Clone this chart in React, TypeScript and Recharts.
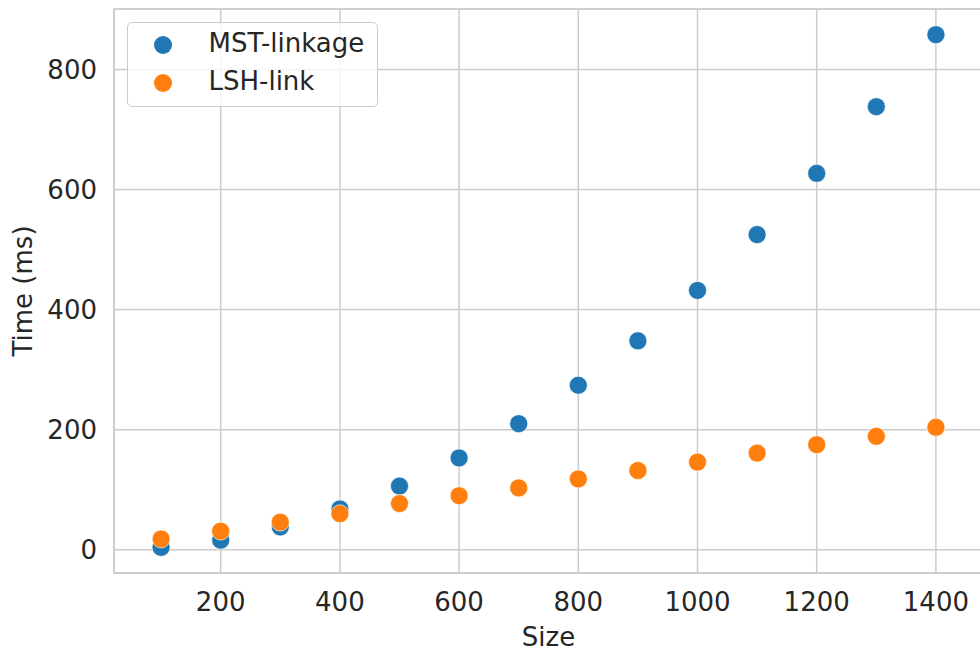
import React from "react";
import {
  ScatterChart,
  Scatter,
  XAxis,
  YAxis,
  CartesianGrid,
  Legend,
  ReferenceArea,
} from "recharts";

const sizes = [100, 200, 300, 400, 500, 600, 700, 800, 900, 1000, 1100, 1200, 1300, 1400];
const mstLinkage = [4, 16, 38, 68, 106, 153, 210, 274, 348, 432, 525, 627, 738, 858];
const lshLink = [18, 31, 46, 60, 77, 90, 103, 118, 132, 146, 161, 175, 189, 204];
const xTicks = [200, 400, 600, 800, 1000, 1200, 1400];
const yTicks = [0, 200, 400, 600, 800];
const seriesNames = ["MST-linkage", "LSH-link"];
const seriesColors = ["#1f77b4", "#ff7f0e"];

const X_DOMAIN: [number, number] = [21, 1479];
const Y_DOMAIN: [number, number] = [-38.7, 900.7];

const mstData = sizes.map((s, i) => ({ x: s, y: mstLinkage[i] }));
const lshData = sizes.map((s, i) => ({ x: s, y: lshLink[i] }));

const FONT = "'DejaVu Sans', sans-serif";
const FS = 26;
const TEXT = "#262626";
const GRID = "#cccccc";

const makeDot = (color: string) => (props: any) => {
  const { cx, cy } = props;
  if (cx == null || cy == null) return <g />;
  return <circle cx={cx} cy={cy} r={9} fill={color} stroke="#ffffff" strokeWidth={0.6} />;
};

const renderLegend = () => (
  <div
    style={{
      position: "relative",
      width: 251,
      height: 85,
      boxSizing: "border-box",
      border: `1.5px solid ${GRID}`,
      borderRadius: 5,
      background: "rgba(255,255,255,0.8)",
      fontFamily: FONT,
      fontSize: FS,
      color: TEXT,
    }}
  >
    {seriesNames.map((name, i) => (
      <div key={name}>
        <div
          style={{
            position: "absolute",
            left: 36 - 1.5 - 9,
            top: 23 + i * 38 - 1.5 - 9,
            width: 18,
            height: 18,
            borderRadius: 9,
            background: seriesColors[i],
          }}
        />
        <div
          style={{
            position: "absolute",
            left: 83 - 1.5 - 1,
            top: 21.5 + i * 38 - 1.5 - 15,
            height: 30,
            lineHeight: "30px",
            whiteSpace: "nowrap",
          }}
        >
          {name}
        </div>
      </div>
    ))}
  </div>
);

export default function App() {
  return (
    <div
      style={{
        position: "absolute",
        left: 0,
        top: 0,
        width: 980,
        height: 651,
        overflow: "hidden",
        background: "#ffffff",
      }}
    >
      <ScatterChart
        width={990}
        height={651}
        margin={{ top: 9, right: 7, bottom: 0, left: 0 }}
        style={{ fontFamily: FONT }}
      >
        <CartesianGrid stroke={GRID} strokeWidth={1.5} />
        <ReferenceArea
          x1={X_DOMAIN[0]}
          x2={X_DOMAIN[1]}
          y1={Y_DOMAIN[0]}
          y2={Y_DOMAIN[1]}
          fill="none"
          fillOpacity={0}
          stroke={GRID}
          strokeWidth={1.5}
          ifOverflow="extendDomain"
        />
        <XAxis
          type="number"
          dataKey="x"
          domain={X_DOMAIN}
          ticks={xTicks}
          allowDataOverflow
          height={78}
          tickLine={false}
          tickSize={0}
          tickMargin={20}
          axisLine={{ stroke: GRID, strokeWidth: 1.5 }}
          tick={{ fill: TEXT, fontSize: FS, fontFamily: FONT }}
          label={(props: any) => {
            const vb = props.viewBox || {};
            return (
              <text
                x={vb.x + vb.width / 2}
                y={645.5}
                textAnchor="middle"
                fill={TEXT}
                fontSize={FS}
                fontFamily={FONT}
              >
                Size
              </text>
            );
          }}
        />
        <YAxis
          type="number"
          dataKey="y"
          domain={Y_DOMAIN}
          ticks={yTicks}
          allowDataOverflow
          width={114}
          tickLine={false}
          tickSize={0}
          tickMargin={17}
          axisLine={{ stroke: GRID, strokeWidth: 1.5 }}
          tick={{ fill: TEXT, fontSize: FS, fontFamily: FONT }}
          label={(props: any) => {
            const vb = props.viewBox || {};
            const cy = vb.y + vb.height / 2;
            return (
              <text
                x={31.5}
                y={cy}
                transform={`rotate(-90, 31.5, ${cy})`}
                textAnchor="middle"
                fill={TEXT}
                fontSize={FS}
                fontFamily={FONT}
              >
                Time (ms)
              </text>
            );
          }}
        />
        <Legend
          layout="horizontal"
          align="center"
          verticalAlign="middle"
          content={renderLegend}
          wrapperStyle={{ position: "absolute", left: 127, top: 22, width: "auto", height: "auto" }}
        />
        <Scatter
          name={seriesNames[0]}
          data={mstData}
          fill={seriesColors[0]}
          shape={makeDot(seriesColors[0])}
          isAnimationActive={false}
        />
        <Scatter
          name={seriesNames[1]}
          data={lshData}
          fill={seriesColors[1]}
          shape={makeDot(seriesColors[1])}
          isAnimationActive={false}
        />
      </ScatterChart>
    </div>
  );
}
